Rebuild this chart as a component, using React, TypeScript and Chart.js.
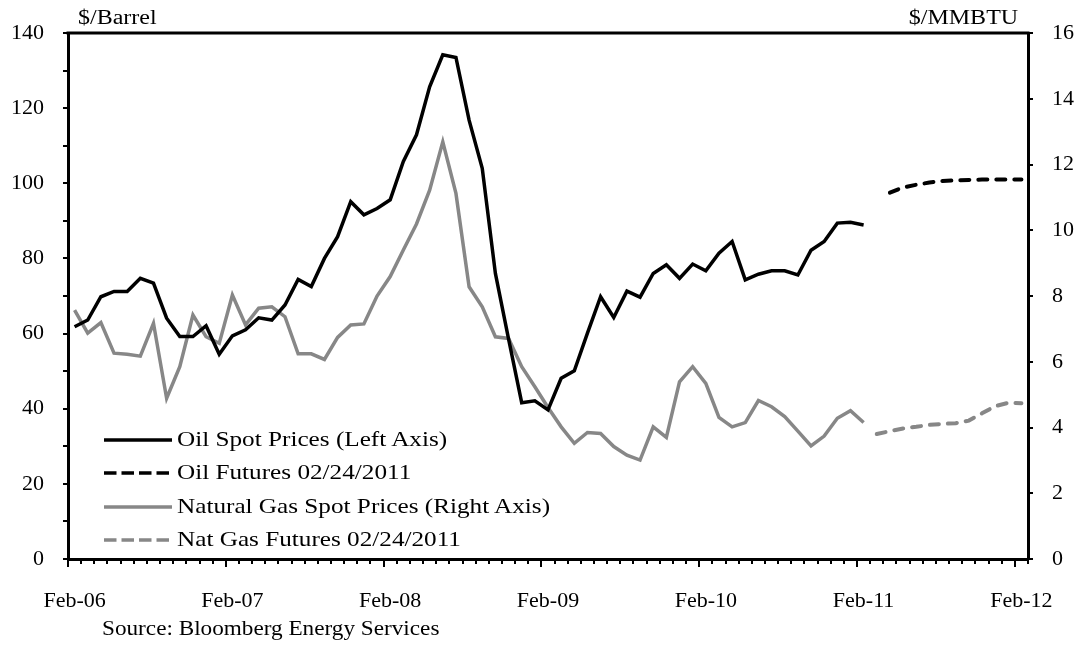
import React, { useEffect, useRef } from 'react';
import { Chart, registerables } from 'chart.js';

Chart.register(...registerables);

// ---------- Categories (monthly, Feb-06 .. Feb-12) ----------
const MONTH_NAMES = ['Jan', 'Feb', 'Mar', 'Apr', 'May', 'Jun', 'Jul', 'Aug', 'Sep', 'Oct', 'Nov', 'Dec'];
const months: string[] = [];
for (let i = 0; i < 73; i++) {
  const m = (1 + i) % 12;
  const y = 6 + Math.floor((1 + i) / 12);
  months.push(`${MONTH_NAMES[m]}-${String(y).padStart(2, '0')}`);
}

// ---------- Series ----------
// Oil spot ($/Barrel), Feb-06 .. Feb-11
const oilSpot = [
  61.8, 63.6, 69.8, 71.2, 71.2, 74.7, 73.4, 64.1, 59.2, 59.2,
  62.1, 54.5, 59.4, 61.0, 64.2, 63.6, 67.6, 74.4, 72.5, 80.0,
  85.8, 95.1, 91.6, 93.3, 95.6, 105.8, 112.9, 125.7, 134.2, 133.5,
  116.8, 104.0, 76.0, 58.6, 41.6, 42.1, 39.7, 48.1, 50.1, 60.1,
  69.8, 64.3, 71.3, 69.7, 76.0, 78.3, 74.7, 78.5, 76.7, 81.4,
  84.5, 74.3, 75.8, 76.7, 76.7, 75.6, 82.2, 84.5, 89.4, 89.6, 88.9,
];
const oilSpotStart = 'Feb-06';

// Oil futures 02/24/2011 ($/Barrel), Apr-11 .. Feb-12
const oilFutures = [97.5, 98.9, 99.6, 100.2, 100.6, 100.8, 100.9, 101.0, 101.0, 101.0, 101.0];
const oilFuturesStart = 'Apr-11';

// Natural gas spot ($/MMBTU), Feb-06 .. Feb-11
const gasSpot = [
  7.57, 6.87, 7.19, 6.26, 6.23, 6.17, 7.17, 4.89, 5.85, 7.42,
  6.76, 6.56, 8.03, 7.12, 7.63, 7.67, 7.37, 6.24, 6.24, 6.07,
  6.74, 7.12, 7.15, 8.0, 8.59, 9.40, 10.19, 11.22, 12.69, 11.12,
  8.28, 7.67, 6.76, 6.71, 5.85, 5.24, 4.61, 4.02, 3.52, 3.85,
  3.82, 3.42, 3.16, 3.01, 4.02, 3.70, 5.39, 5.85, 5.34, 4.31,
  4.02, 4.15, 4.82, 4.63, 4.33, 3.89, 3.44, 3.74, 4.28, 4.51, 4.15,
];
const gasSpotStart = 'Feb-06';

// Nat gas futures 02/24/2011 ($/MMBTU), Mar-11 .. Feb-12
const gasFutures = [3.80, 3.89, 3.97, 4.02, 4.08, 4.11, 4.13, 4.21, 4.43, 4.65, 4.75, 4.74];
const gasFuturesStart = 'Mar-11';

// ---------- Axis ticks ----------
const leftTickStep = 10;
const leftLabelStep = 20;
const leftMax = 140;
const rightTickStep = 2;
const rightMax = 16;
const yearLabelEvery = 12;

const seriesNames = [
  'Oil Spot Prices (Left Axis)',
  'Oil Futures 02/24/2011',
  'Natural Gas Spot Prices (Right Axis)',
  'Nat Gas Futures 02/24/2011',
];

function place(values: number[], start: string): (number | null)[] {
  const out: (number | null)[] = months.map(() => null);
  const s = months.indexOf(start);
  values.forEach((v, k) => {
    out[s + k] = v;
  });
  return out;
}

const FONT = "'Liberation Serif', 'Times New Roman', serif";
const GRAY = '#878787';

const framePlugin = {
  id: 'frame',
  afterDraw(chart: any) {
    const { ctx, chartArea, scales } = chart;
    ctx.save();
    ctx.strokeStyle = '#000';
    ctx.lineWidth = 3;
    ctx.beginPath();
    ctx.moveTo(chartArea.left - 1.5, chartArea.top);
    ctx.lineTo(chartArea.right + 1.5, chartArea.top);
    ctx.stroke();
    const xs = scales.x;
    const half = (xs.getPixelForValue(1) - xs.getPixelForValue(0)) / 2;
    ctx.lineWidth = 2;
    ctx.beginPath();
    for (let i = 0; i < months.length; i += yearLabelEvery) {
      const x = Math.round(xs.getPixelForValue(i) - half);
      ctx.moveTo(x, chartArea.bottom);
      ctx.lineTo(x, chartArea.bottom + 8);
    }
    ctx.stroke();
    ctx.restore();
  },
};

function LegendLine({ color, dashed }: { color: string; dashed: boolean }) {
  return (
    <svg width={68} height={8} style={{ display: 'block' }}>
      <line
        x1={0}
        y1={4}
        x2={68}
        y2={4}
        stroke={color}
        strokeWidth={3.5}
        strokeDasharray={dashed ? '12.5 5' : undefined}
      />
    </svg>
  );
}

const textStyle: React.CSSProperties = {
  position: 'absolute',
  fontFamily: FONT,
  fontSize: 21,
  lineHeight: '21px',
  color: '#000',
  whiteSpace: 'nowrap',
  transform: 'scaleX(1.2)',
  transformOrigin: 'left center',
};

export default function App() {
  const canvasRef = useRef<HTMLCanvasElement | null>(null);

  useEffect(() => {
    if (!canvasRef.current) return;
    const tickFont = { family: FONT, size: 22 };
    const chart = new Chart(canvasRef.current, {
      type: 'line',
      data: {
        labels: months,
        datasets: [
          {
            label: seriesNames[0],
            data: place(oilSpot, oilSpotStart),
            borderColor: '#000',
            borderWidth: 3.5,
            pointRadius: 0,
            yAxisID: 'y',
          },
          {
            label: seriesNames[1],
            data: place(oilFutures, oilFuturesStart),
            borderColor: '#000',
            borderWidth: 4,
            borderDash: [9, 9],
            borderCapStyle: 'round',
            pointRadius: 0,
            yAxisID: 'y',
          },
          {
            label: seriesNames[2],
            data: place(gasSpot, gasSpotStart),
            borderColor: GRAY,
            borderWidth: 3.5,
            pointRadius: 0,
            yAxisID: 'y1',
          },
          {
            label: seriesNames[3],
            data: place(gasFutures, gasFuturesStart),
            borderColor: GRAY,
            borderWidth: 4,
            borderDash: [9, 9],
            borderCapStyle: 'round',
            pointRadius: 0,
            yAxisID: 'y1',
          },
        ],
      },
      options: {
        responsive: false,
        animation: false,
        devicePixelRatio: 1,
        layout: { padding: { top: 33, left: 0, right: 0, bottom: 0 } },
        plugins: { legend: { display: false }, tooltip: { enabled: false } },
        elements: { line: { tension: 0 } },
        scales: {
          x: {
            type: 'category',
            offset: true,
            grid: {
              offset: true,
              drawOnChartArea: false,
              drawTicks: true,
              tickLength: 5,
              color: '#000',
              lineWidth: 2,
            },
            border: { color: '#000', width: 3 },
            ticks: {
              autoSkip: false,
              maxRotation: 0,
              minRotation: 0,
              padding: 24,
              color: '#000',
              font: tickFont,
              callback: (_v: any, i: number) => (i % yearLabelEvery === 0 ? months[i] : ''),
            },
            afterFit: (s: any) => {
              s.height = 90;
            },
          },
          y: {
            position: 'left',
            min: 0,
            max: leftMax,
            grid: { drawOnChartArea: false, tickLength: 5, color: '#000', lineWidth: 2 },
            border: { color: '#000', width: 3 },
            ticks: {
              stepSize: leftTickStep,
              padding: 19,
              color: '#000',
              font: tickFont,
              callback: (v: any) => (Number(v) % leftLabelStep === 0 ? String(v) : ''),
            },
            afterFit: (s: any) => {
              s.width = 68;
            },
          },
          y1: {
            position: 'right',
            min: 0,
            max: rightMax,
            grid: { drawOnChartArea: false, tickLength: 5, color: '#000', lineWidth: 2 },
            border: { color: '#000', width: 3 },
            ticks: {
              stepSize: rightTickStep,
              padding: 19,
              color: '#000',
              font: tickFont,
            },
            afterFit: (s: any) => {
              s.width = 53;
            },
          },
        },
      },
      plugins: [framePlugin],
    });
    return () => chart.destroy();
  }, []);

  const legendRows = [
    { name: seriesNames[0], color: '#000', dashed: false, y: 440 },
    { name: seriesNames[1], color: '#000', dashed: true, y: 473 },
    { name: seriesNames[2], color: GRAY, dashed: false, y: 507 },
    { name: seriesNames[3], color: GRAY, dashed: true, y: 540 },
  ];

  return (
    <div
      style={{
        position: 'absolute',
        left: 0,
        top: 0,
        width: 1081,
        height: 649,
        background: '#fff',
        overflow: 'hidden',
      }}
    >
      <canvas ref={canvasRef} width={1081} height={649} style={{ width: 1081, height: 649, display: 'block' }} />
      <div style={{ ...textStyle, fontSize: 20, lineHeight: '20px', left: 78, top: 7 }}>$/Barrel</div>
      <div style={{ ...textStyle, fontSize: 20, lineHeight: '20px', right: 63, top: 7, transformOrigin: 'right center' }}>
        $/MMBTU
      </div>
      <div style={{ ...textStyle, fontSize: 20, lineHeight: '20px', transform: 'scaleX(1.16)', left: 102, top: 618 }}>
        Source: Bloomberg Energy Services
      </div>
      {legendRows.map((r) => (
        <div key={r.name} style={{ position: 'absolute', left: 104, top: r.y - 4 }}>
          <LegendLine color={r.color} dashed={r.dashed} />
        </div>
      ))}
      {legendRows.map((r) => (
        <div key={r.name + 't'} style={{ ...textStyle, left: 177, top: r.y - 11 }}>
          {r.name}
        </div>
      ))}
    </div>
  );
}
